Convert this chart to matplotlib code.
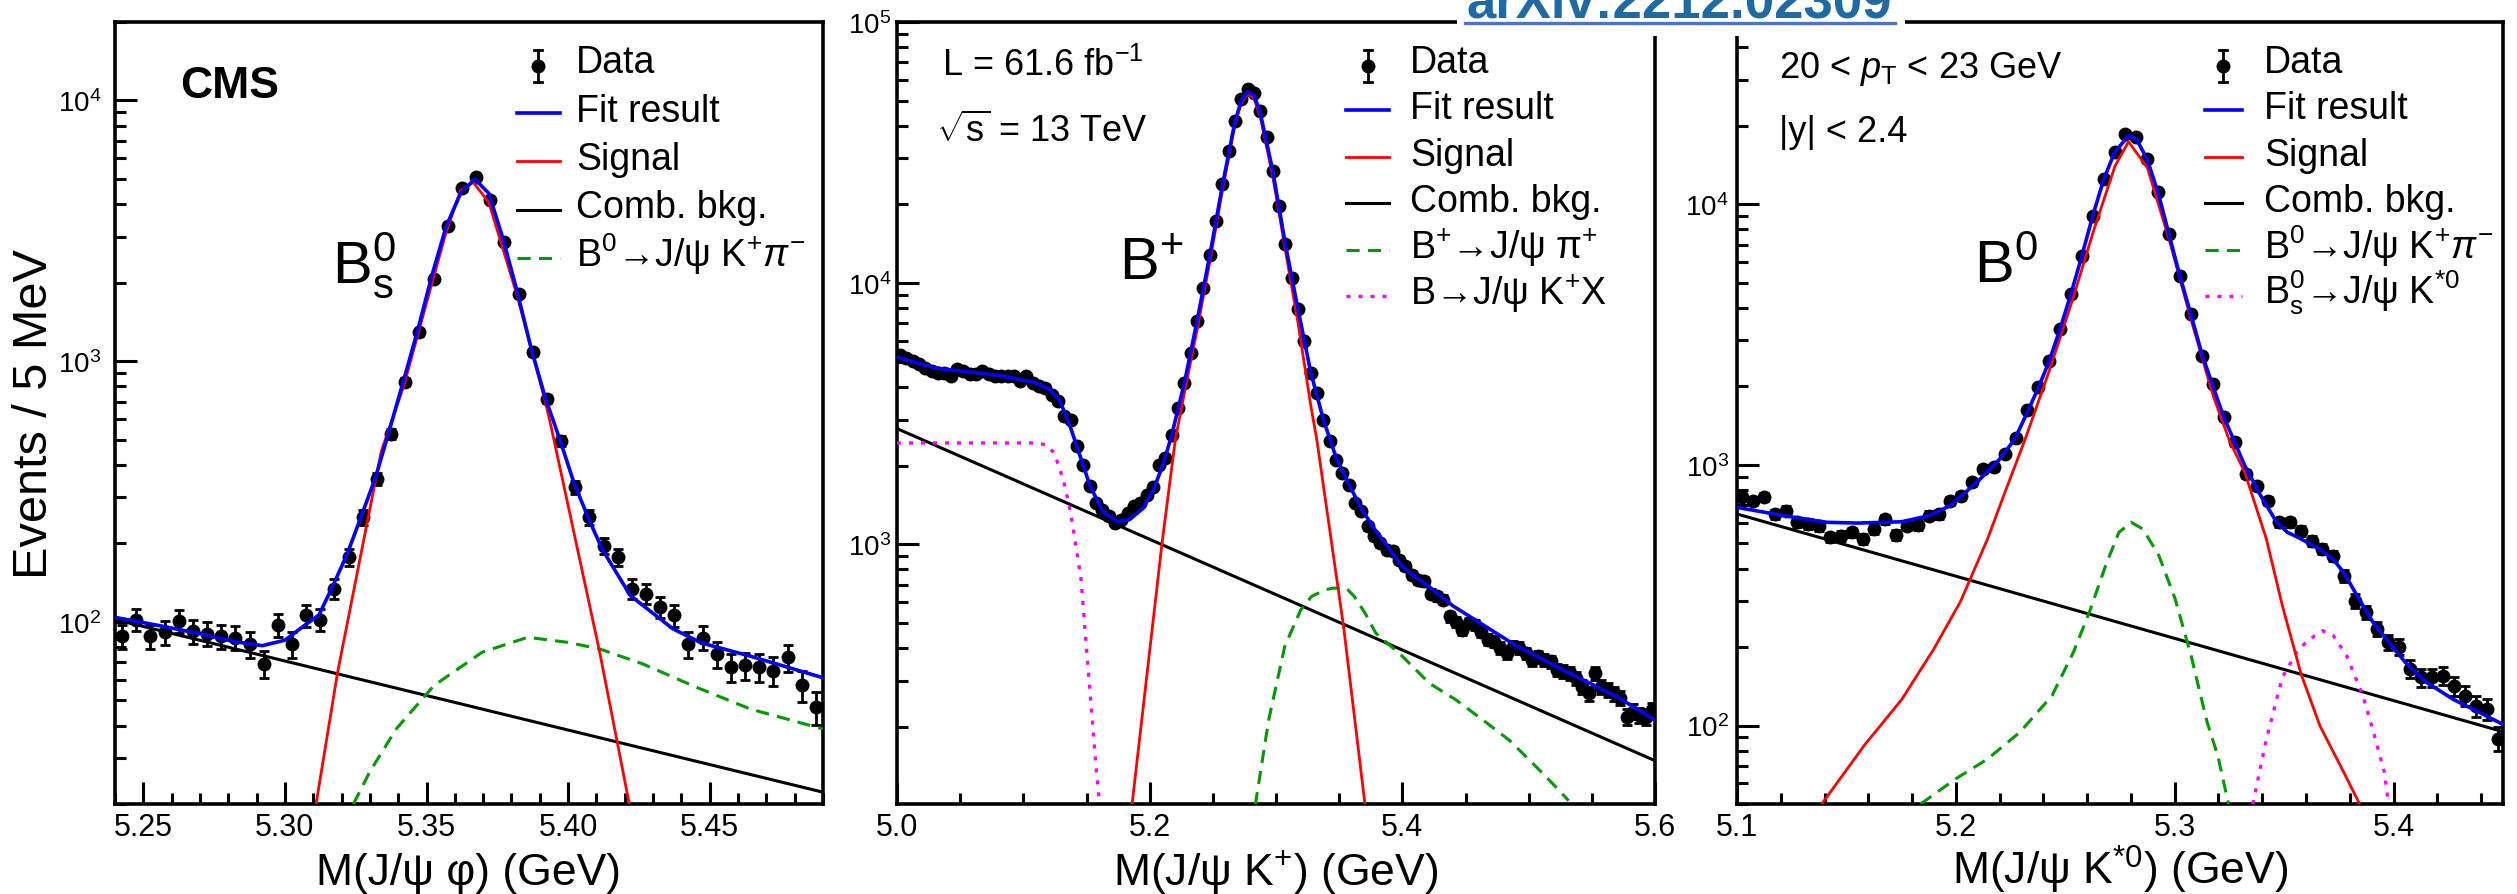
import numpy as np
import matplotlib
matplotlib.use("Agg")
from matplotlib import pyplot as plt
from matplotlib.lines import Line2D
from matplotlib.patches import Rectangle
from matplotlib.ticker import MultipleLocator, FormatStrFormatter, NullFormatter, LogLocator

plt.rcParams['font.family'] = ['Liberation Sans', 'DejaVu Sans']
plt.rcParams['mathtext.fontset'] = 'custom'
plt.rcParams['mathtext.rm'] = 'Liberation Sans'
plt.rcParams['mathtext.it'] = 'Liberation Sans:italic'
plt.rcParams['mathtext.bf'] = 'Liberation Sans:bold'
plt.rcParams['mathtext.default'] = 'regular'

# ---- B0s panel (5 MeV bins from 5.24 GeV)
bs_counts = [88, 102, 88, 91, 101, 92, 90, 88, 87, 82,
             69, 97, 82, 106, 102, 134, 177, 252, 353, 525,
             830, 1290, 2066, 3308, 4604, 5072, 4150, 2857, 1810, 1081,
             716, 495, 328, 252, 196, 177, 134, 128, 114, 106,
             82, 87, 75, 67, 68, 67, 65, 73, 57, 47]
bs_fit_m = [5.240, 5.255, 5.270, 5.282, 5.292, 5.300, 5.307, 5.312, 5.317, 5.322, 5.327,
            5.332, 5.337, 5.342, 5.347, 5.352, 5.357, 5.362, 5.367, 5.372, 5.377, 5.382,
            5.387, 5.392, 5.397, 5.402, 5.407, 5.412, 5.422, 5.437, 5.447, 5.464, 5.490]
bs_fit_v = [104, 97, 90, 84, 81, 85, 97, 106, 138, 182, 255,
            358, 549, 850, 1328, 2150, 3300, 4400, 5000, 4400, 2950, 1850,
            1113, 720, 503, 343, 252, 190, 126, 94, 83, 74, 61]
bs_sig_m = [5.311, 5.3186, 5.334, 5.342, 5.352, 5.357, 5.362, 5.3665, 5.372, 5.382,
            5.392, 5.394, 5.4112, 5.4216]
bs_sig_v = [20, 64, 450, 806, 2006, 3150, 4508, 4850, 4064, 1784, 695, 560, 76, 20]
bs_bkg_m = [5.24, 5.49]
bs_bkg_v = [102, 22.2]
bs_kpi_m = [5.3242, 5.3299, 5.3393, 5.3526, 5.3696, 5.3857, 5.3999, 5.4113, 5.4264,
            5.4453, 5.4643, 5.49]
bs_kpi_v = [20, 26.5, 38.8, 56.9, 76.4, 87.2, 83.4, 78.6, 68.9, 56.1, 46.3, 38.8]

# ---- B+ panel (5 MeV bins from 5.0 GeV)
bu_counts = [5324, 5170, 5018, 4875, 4733, 4597, 4530, 4530, 4398, 4665,
             4597, 4464, 4464, 4597, 4464, 4398, 4398, 4398, 4398, 4207,
             4398, 4146, 4027, 3967, 3741, 3526, 3088, 2999, 2369, 2015,
             1664, 1437, 1354, 1276, 1204, 1240, 1315, 1394, 1437, 1540,
             1650, 2015, 2138, 2627, 3325, 4148, 5406, 7146, 9598, 12766,
             17290, 23906, 32080, 41820, 50660, 55340, 53400, 45670, 36110, 26890,
             19740, 14070, 10480, 7925, 5990, 4530, 3797, 2999, 2476, 2106,
             1873, 1689, 1437, 1335, 1168, 1070, 1009, 951, 940, 871,
             826, 762, 730, 719, 646, 630, 612, 528, 505, 469,
             498, 490, 462, 430, 423, 400, 382, 405, 400, 382,
             360, 371, 360, 355, 330, 325, 320, 306, 284, 268,
             320, 284, 276, 268, 257, 218, 228, 221, 218, 231]
bu_fit_m = [5.000, 5.030, 5.058, 5.084, 5.110, 5.121, 5.129, 5.137, 5.145, 5.153, 5.163,
            5.174, 5.184, 5.195, 5.203, 5.211, 5.2175, 5.2275, 5.2375, 5.2475, 5.2575,
            5.2675, 5.2725, 5.2775, 5.2825, 5.2875, 5.2975, 5.3075, 5.3175, 5.3275, 5.3375,
            5.3475, 5.3575, 5.3675, 5.3775, 5.3875, 5.400, 5.410, 5.421, 5.440, 5.464,
            5.489, 5.527, 5.570, 5.600]
bu_fit_v = [5200, 4730, 4560, 4400, 4150, 3910, 3530, 2830, 2170, 1660, 1335,
            1222, 1240, 1375, 1616, 2045, 2620, 4150, 7150, 12700, 23500,
            41500, 50000, 54000, 52500, 45000, 26800, 14000, 7900, 4550, 3000,
            2150, 1700, 1370, 1150, 990, 820, 750, 688, 580, 490,
            411, 330, 260, 212]
bu_sig_m = [5.186, 5.2097, 5.2203, 5.2275, 5.2375, 5.2475, 5.2575, 5.2675, 5.2725, 5.2775,
            5.2825, 5.2875, 5.2975, 5.3075, 5.3175, 5.3275, 5.3323, 5.3535, 5.3705]
bu_sig_v = [100, 1000, 2513, 3800, 6600, 12000, 22500, 40500, 49000, 53200,
            51000, 43500, 25500, 13300, 7000, 3400, 2513, 483, 100]
bu_bkg_m = [5.0, 5.6]
bu_bkg_v = [2770, 148]
bu_pi_m = [5.2836, 5.2942, 5.3069, 5.3196, 5.3281, 5.3387, 5.3451, 5.3556, 5.362, 5.3705,
           5.379, 5.4002, 5.4214, 5.4425, 5.4637, 5.4849, 5.5061, 5.5189, 5.5316]
bu_pi_v = [100, 212, 405, 560, 630, 668, 678, 678, 630, 544,
           456, 371, 293, 253, 212, 177, 140, 121, 104]
bu_kx_m = [5.0, 5.110, 5.118, 5.1245, 5.1317, 5.1373, 5.1414, 5.1456, 5.1499, 5.1542, 5.158, 5.1605]
bu_kx_v = [2441, 2441, 2400, 2235, 1765, 1330, 1000, 740, 405, 225, 132, 100]

# ---- B0 panel (5 MeV bins from 5.1 GeV)
bd_counts = [751, 729, 751, 648, 667, 602, 593, 581, 527, 535,
             551, 520, 567, 620, 540, 585, 588, 638, 648, 729,
             762, 857, 964, 979, 1101, 1270, 1628, 1983, 2509, 3320,
             4523, 6347, 9035, 12490, 15900, 18590, 18050, 14910, 11100, 7685,
             5290, 3792, 2624, 2042, 1522, 1220, 922, 832, 729, 602,
             602, 559, 512, 475, 448, 376, 301, 272, 235, 209,
             200, 165, 153, 153, 155, 142, 130, 119, 116, 89]
bd_fit_m = [5.1, 5.1215, 5.1411, 5.155, 5.1753, 5.1876, 5.1974, 5.2096, 5.2194, 5.2268,
            5.2325, 5.2375, 5.2425, 5.2475, 5.2525, 5.2575, 5.2625, 5.2675, 5.2725, 5.2789,
            5.2825, 5.2875, 5.2925, 5.2975, 5.3025, 5.3075, 5.3125, 5.3175, 5.3225, 5.3271,
            5.332, 5.3393, 5.3466, 5.3515, 5.3564, 5.3662, 5.3723, 5.3772, 5.3833, 5.3906,
            5.3979, 5.4053, 5.415, 5.4273, 5.4395, 5.45]
bd_fit_v = [687, 638, 602, 598, 605, 638, 697, 857, 1037, 1250,
            1580, 1960, 2480, 3300, 4500, 6300, 9000, 12400, 15800, 18300,
            17800, 14800, 11000, 7600, 5250, 3750, 2650, 2000, 1520, 1238,
            993, 762, 602, 551, 527, 475, 435, 387, 315, 249,
            209, 175, 146.5, 126, 112, 101]
bd_sig_m = [5.1387, 5.1582, 5.1753, 5.19, 5.2022, 5.2145, 5.2218, 5.2316, 5.2427, 5.2537,
            5.2627, 5.2727, 5.2789, 5.2875, 5.2975, 5.3075, 5.3175, 5.325, 5.332, 5.3419,
            5.3492, 5.3577, 5.3663, 5.3773, 5.3845]
bd_sig_v = [50, 84, 126, 197, 300, 520, 760, 1250, 2300, 4400,
            7800, 14000, 17370, 13800, 7300, 3600, 1850, 1238, 937, 519,
            288, 158, 100, 66, 50]
bd_bkg_m = [5.1, 5.45]
bd_bkg_v = [648, 94.7]
bd_kpi_m = [5.1839, 5.1999, 5.2145, 5.2292, 5.2439, 5.2537, 5.261, 5.2684, 5.2745, 5.2801,
            5.2855, 5.2928, 5.3002, 5.3075, 5.3148, 5.3197, 5.3234, 5.3246]
bd_kpi_v = [50, 62.4, 74.4, 94.2, 130, 191, 272, 410, 551, 602,
            567, 448, 306, 185, 103, 76.6, 55.4, 50]
bd_bs_m = [5.3357, 5.3419, 5.3492, 5.3566, 5.3639, 5.3676, 5.3725, 5.3786, 5.386, 5.3909,
           5.3958, 5.3977]
bd_bs_v = [50, 88.8, 153, 197, 221, 231, 221, 185, 130, 94, 66.2, 50]

W, H = 2517, 895
BIN = 0.005


def fx(px):
    return px / W


def fy(py):
    return 1 - py / H


def centers(lo, n):
    return lo + BIN * (np.arange(n) + 0.5)


FIT = dict(color='#0000ff', lw=2.6)
SIG = dict(color='#ff0000', lw=2.0)
BKG = dict(color='black', lw=2.2)
DASH = dict(color='#009900', lw=2.2, dashes=(4.3, 2.7))
DOT = dict(color='#ff00ff', lw=2.4, dashes=(1.2, 2.4))

fig = plt.figure(figsize=(W / 100, H / 100), dpi=100)


def panel(x0, x1, counts, lo, curves, xlim, ylim, xmaj, xmin, xfmt, xlabel, ypad):
    ax = fig.add_axes([fx(x0), fy(805), (x1 - x0) / W, (805 - 23) / H])
    x = centers(lo, len(counts))
    c = np.array(counts, dtype=float)
    ax.errorbar(x, c, yerr=np.sqrt(c), fmt='o', ms=9, color='black', ecolor='black',
                elinewidth=2.0, capsize=3.8, capthick=2.0, zorder=2)
    for m, v, st in curves:
        ax.plot(m, v, zorder=3, **st)
    ax.set_yscale('log')
    ax.set_xlim(*xlim)
    ax.set_ylim(*ylim)
    ax.xaxis.set_major_locator(MultipleLocator(xmaj))
    ax.xaxis.set_minor_locator(MultipleLocator(xmin))
    ax.xaxis.set_major_formatter(FormatStrFormatter(xfmt))
    ax.yaxis.set_minor_locator(LogLocator(base=10, subs=np.arange(2, 10), numticks=50))
    ax.yaxis.set_minor_formatter(NullFormatter())
    ax.tick_params(which='major', direction='in', length=16, width=2.2, top=False, right=False)
    ax.tick_params(which='minor', direction='in', length=8, width=2.2, top=False, right=False)
    ax.tick_params(axis='x', pad=6, labelsize=22)
    ax.tick_params(axis='y', pad=ypad, labelsize=20)
    for s in ax.spines.values():
        s.set_linewidth(2.6)
    ax.set_xlabel(xlabel, fontsize=32, va='baseline')
    ax.xaxis.set_label_coords(0.5, -(885 - 805) / 782)
    return ax


ax1 = panel(115, 823, bs_counts, 5.24,
            [(bs_bkg_m, bs_bkg_v, BKG), (bs_kpi_m, bs_kpi_v, DASH),
             (bs_sig_m, bs_sig_v, SIG), (bs_fit_m, bs_fit_v, FIT)],
            (5.24, 5.49), (20, 2e4), 0.05, 0.01, '%.2f', 'M(J/ψ φ) (GeV)', 10)
ax1.set_ylabel('Events / 5 MeV', fontsize=35, va='center')
ax1.yaxis.set_label_coords(-0.113, 0.5)

ax2 = panel(897, 1655, bu_counts, 5.0,
            [(bu_bkg_m, bu_bkg_v, BKG), (bu_pi_m, bu_pi_v, DASH), (bu_kx_m, bu_kx_v, DOT),
             (bu_sig_m, bu_sig_v, SIG), (bu_fit_m, bu_fit_v, FIT)],
            (5.0, 5.6), (101, 1e5), 0.2, 0.05, '%.1f', 'M(J/ψ K$^{+}$) (GeV)', 4)

ax3 = panel(1737, 2503, bd_counts, 5.1,
            [(bd_bkg_m, bd_bkg_v, BKG), (bd_kpi_m, bd_kpi_v, DASH), (bd_bs_m, bd_bs_v, DOT),
             (bd_sig_m, bd_sig_v, SIG), (bd_fit_m, bd_fit_v, FIT)],
            (5.1, 5.45), (50, 5e4), 0.1, 0.02, '%.1f', 'M(J/ψ K$^{*0}$) (GeV)', 6)


def legend(x0, x1, xm, xt, base0, step, rows):
    for k, (label, st) in enumerate(rows):
        b = base0 + k * step
        if st is None:
            yc = b - 6
            fig.add_artist(Line2D([fx(xm)] * 2, [fy(yc - 16), fy(yc + 16)], color='k', lw=2.0))
            for yy in (yc - 16, yc + 16):
                fig.add_artist(Line2D([fx(xm - 4), fx(xm + 4)], [fy(yy)] * 2, color='k', lw=2.0))
            fig.add_artist(Line2D([fx(xm)], [fy(yc)], marker='o', ms=9, color='k'))
        else:
            fig.add_artist(Line2D([fx(x0), fx(x1)], [fy(b - 8)] * 2, **st))
        fig.text(fx(xt), fy(b), label, fontsize=27, va='baseline')


common = [('Data', None), ('Fit result', FIT), ('Signal', SIG), ('Comb. bkg.', BKG)]
legend(517, 560, 538, 576, 73, 48.5,
       common + [('B$^{0}$→J/ψ K$^{+}\\mathit{\\pi}^{-}$', DASH)])
legend(1346, 1389, 1368, 1410, 73, 46.4,
       common + [('B$^{+}$→J/ψ π$^{+}$', DASH), ('B→J/ψ K$^{+}$X', DOT)])
legend(2205, 2242, 2223, 2264, 73, 46.4,
       common + [('B$^{0}$→J/ψ K$^{+}\\mathit{\\pi}^{-}$', DASH),
                 ('$B_{s}^{0}$→J/ψ K$^{*0}$', DOT)])

fig.text(fx(180), fy(98), 'CMS', fontsize=32, fontweight='bold', va='baseline')
fig.text(fx(332), fy(282), '$B_{s}^{0}$', fontsize=43, va='baseline')
fig.text(fx(1119), fy(280), '$B^{+}$', fontsize=43, va='baseline')
fig.text(fx(1974), fy(283), '$B^{0}$', fontsize=43, va='baseline')
fig.text(fx(942), fy(76), 'L = 61.6 fb$^{-1}$', fontsize=26, va='baseline')
fig.text(fx(936), fy(142), '$\\sqrt{s}$ = 13 TeV', fontsize=26, va='baseline')
fig.text(fx(1779), fy(78), '20 < $\\mathit{p}_{T}$ < 23 GeV', fontsize=26, va='baseline')
fig.text(fx(1779), fy(142), '|y| < 2.4', fontsize=26, va='baseline')

# arXiv banner on top (its upper half runs off the picture, as in the source)
fig.add_artist(Rectangle((fx(1457), fy(37)), (1905 - 1457) / W, 37 / H,
                         facecolor='white', edgecolor='none', zorder=5))
fig.text(fx(1467), fy(18), 'arXiv:2212.02309', fontsize=38, fontweight='bold',
         color='#1f6aa5', va='baseline', zorder=6)
fig.add_artist(Line2D([fx(1465), fx(1895)], [fy(24)] * 2, color='#4a74c9', lw=2.4, zorder=6))

fig.savefig('out.png', dpi=100)
